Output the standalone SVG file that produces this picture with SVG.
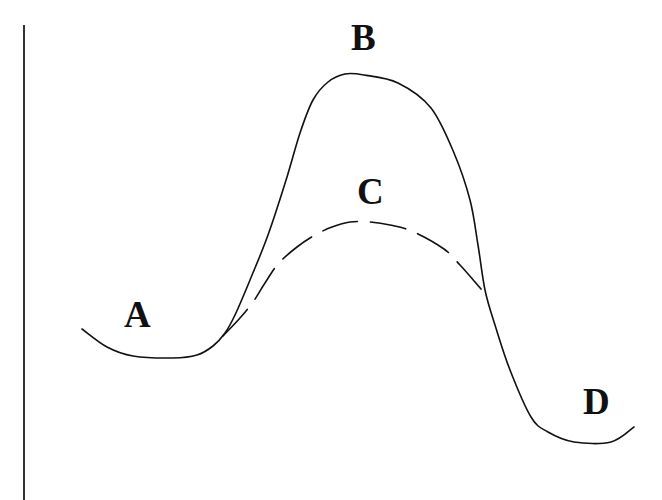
<svg xmlns="http://www.w3.org/2000/svg" width="662" height="500" viewBox="0 0 662 500">
<style>
.ln{fill:none;stroke:#111;stroke-width:1.6;stroke-linejoin:round;stroke-linecap:round}
.dash{stroke-dasharray:36 13}
.lbl{font-family:"Liberation Serif","Times New Roman",serif;font-weight:bold;font-size:37px;fill:#111}
</style>
<rect width="662" height="500" fill="#fff"/>
<g id="axis"><line x1="24" y1="25" x2="24" y2="500" stroke="#333" stroke-width="2"/></g>
<g id="connectors">
<path id="solid-curve" class="ln" d="M82,329 C86.2,332 98.5,342.5 107,347 C115.5,351.5 122,354.2 133,356 C144,357.8 162.3,358.2 173,358 C183.7,357.8 190.3,357 197,355 C203.7,353 208.3,349.7 213,346 C217.7,342.3 221.3,338.2 225,333 C228.7,327.8 230.8,323.8 235,315 C239.2,306.2 244.5,293.3 250,280 C255.5,266.7 261.8,252.2 268,235 C274.2,217.8 281.7,194 287,177 C292.3,160 295.7,145.8 300,133 C304.3,120.2 308.3,108.5 313,100 C317.7,91.5 322.7,86.3 328,82 C333.3,77.7 339,75.2 345,74 C351,72.8 355.2,73.5 364,75 C372.8,76.5 386.8,77.5 398,83 C409.2,88.5 421.7,96.3 431,108 C440.3,119.7 447.5,137.7 454,153 C460.5,168.3 466,184.7 470,200 C474,215.3 475.5,230 478,245 C480.5,260 482.2,276.7 485,290 C487.8,303.3 490.8,311.7 495,325 C499.2,338.3 504,354.7 510,370 C516,385.3 524.7,406.7 531,417 C537.3,427.3 540.8,427.8 548,432 C555.2,436.2 563.5,440.3 574,442 C584.5,443.7 601,444.5 611,442 C621,439.5 630.2,429.5 634,427"/>
<path id="dashed-curve" class="ln dash" d="M223,336 C225.8,333 235,323.7 240,318 C245,312.3 248.8,307.8 253,302 C257.2,296.2 260.8,289.3 265,283 C269.2,276.7 272.7,270 278,264 C283.3,258 290.8,251.8 297,247 C303.2,242.2 309.2,238.3 315,235 C320.8,231.7 326.2,229.2 332,227 C337.8,224.8 343.7,222.8 350,222 C356.3,221.2 363.3,221.5 370,222 C376.7,222.5 382.7,223.3 390,225 C397.3,226.7 405,228 414,232 C423,236 436.3,243.5 444,249 C451.7,254.5 454.8,259.5 460,265 C465.2,270.5 470.5,276.8 475,282 C479.5,287.2 485,293.7 487,296"/>
</g>
<g id="A"><text class="lbl" x="124" y="327">A</text></g>
<g id="B"><text class="lbl" x="351" y="50">B</text></g>
<g id="C"><text class="lbl" x="357" y="204">C</text></g>
<g id="D"><text class="lbl" x="583" y="414">D</text></g>
</svg>
